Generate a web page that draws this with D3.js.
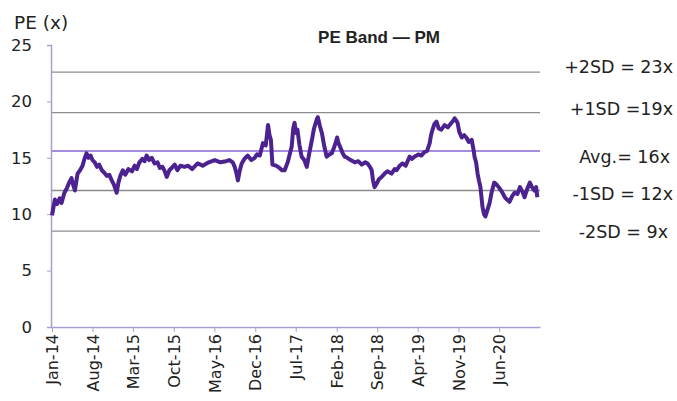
<!DOCTYPE html>
<html>
<head>
<title>PE Band - PM</title>
<script src="https://cdn.jsdelivr.net/npm/d3@7"></script>
<style>
  body { margin: 0; background: #fff; }
  svg text { font-family: "DejaVu Sans", Verdana, sans-serif; fill: #222; }
</style>
</head>
<body>
<svg id="chart" width="677" height="401"></svg>
<script>
// PE series (roughly every two weeks)
var dates = [
  '2014-01-01','2014-01-16','2014-01-28','2014-02-10','2014-02-20','2014-03-07','2014-03-20','2014-04-01','2014-04-13','2014-04-22',
  '2014-05-01','2014-05-15','2014-05-28','2014-06-10','2014-06-20','2014-07-01','2014-07-12','2014-07-22','2014-08-01','2014-08-13',
  '2014-08-25','2014-09-05','2014-09-19','2014-10-01','2014-10-15','2014-10-28','2014-11-10','2014-11-22','2014-12-06','2014-12-15',
  '2014-12-25','2015-01-07','2015-01-20','2015-02-05','2015-02-24','2015-03-10','2015-03-22','2015-04-04','2015-04-20','2015-05-01',
  '2015-05-12','2015-05-25','2015-06-08','2015-06-22','2015-07-08','2015-07-20','2015-08-03','2015-08-15','2015-08-25','2015-09-08',
  '2015-09-20','2015-10-06','2015-10-20','2015-11-05','2015-11-27','2015-12-15','2016-01-05','2016-02-03','2016-03-01','2016-04-01',
  '2016-05-03','2016-06-01','2016-07-01','2016-07-19','2016-08-05','2016-08-15','2016-08-25','2016-09-01','2016-09-10','2016-09-21',
  '2016-10-05','2016-10-22','2016-11-10','2016-11-28','2016-12-10','2016-12-25','2017-01-10','2017-01-25','2017-02-06','2017-02-14',
  '2017-02-21','2017-03-01','2017-03-20','2017-04-07','2017-04-20','2017-05-04','2017-05-20','2017-06-01','2017-06-10','2017-06-18',
  '2017-06-25','2017-07-03','2017-07-10','2017-07-20','2017-08-01','2017-08-15','2017-08-28','2017-09-10','2017-09-24','2017-10-05',
  '2017-10-12','2017-10-19','2017-10-25','2017-11-05','2017-11-15','2017-11-28','2017-12-10','2017-12-25','2018-01-06','2018-01-20',
  '2018-02-03','2018-02-10','2018-02-18','2018-03-04','2018-03-15','2018-03-28','2018-04-15','2018-05-06','2018-05-25','2018-06-12',
  '2018-07-01','2018-07-12','2018-07-25','2018-08-03','2018-08-10','2018-08-18','2018-09-01','2018-09-10','2018-09-24','2018-10-10',
  '2018-10-24','2018-11-15','2018-12-01','2018-12-12','2018-12-28','2019-01-12','2019-01-28','2019-02-18','2019-03-01','2019-03-15',
  '2019-04-05','2019-04-20','2019-05-06','2019-05-20','2019-06-03','2019-06-10','2019-06-18','2019-06-28','2019-07-09','2019-07-20',
  '2019-08-03','2019-08-20','2019-09-06','2019-09-20','2019-10-05','2019-10-12','2019-10-20','2019-10-27','2019-11-05','2019-11-18',
  '2019-12-01','2019-12-12','2019-12-25','2020-01-09','2020-01-18','2020-01-24','2020-02-01','2020-02-09','2020-02-16','2020-02-24',
  '2020-03-01','2020-03-06','2020-03-14','2020-03-21','2020-03-30','2020-04-12','2020-04-22','2020-05-06','2020-05-20','2020-06-03',
  '2020-06-15','2020-07-01','2020-07-12','2020-07-25','2020-08-08','2020-08-21','2020-09-05','2020-09-18','2020-10-01','2020-10-12',
  '2020-10-25','2020-11-09','2020-11-20','2020-12-03','2020-12-12','2020-12-18'];
var pe = [
  9.9, 11.3, 10.9, 11.4, 11.0, 11.9, 12.3, 12.8, 13.2, 12.6,
  12.1, 13.6, 13.9, 14.3, 14.9, 15.4, 15.0, 15.2, 14.8, 14.6,
  14.2, 14.4, 13.9, 13.7, 13.4, 13.5, 13.0, 12.6, 11.9, 12.8,
  13.4, 13.9, 13.5, 14.0, 13.8, 14.3, 14.0, 14.6, 14.9, 14.7,
  15.2, 14.8, 15.0, 14.5, 14.6, 14.1, 14.2, 13.8, 13.3, 13.9,
  14.1, 14.4, 13.9, 14.3, 14.2, 14.3, 14.0, 14.5, 14.3, 14.6,
  14.8, 14.6, 14.7, 14.8, 14.6, 14.2, 13.6, 13.0, 13.8, 14.5,
  14.9, 15.2, 14.8, 15.0, 15.3, 15.2, 16.3, 16.1, 17.9, 17.0,
  16.6, 14.4, 14.3, 14.1, 13.9, 13.9, 14.6, 15.4, 16.0, 17.6,
  18.1, 17.2, 17.5, 16.2, 15.1, 14.8, 14.2, 15.4, 16.6, 17.6,
  18.0, 18.4, 18.6, 17.8, 17.2, 16.0, 15.1, 15.3, 15.4, 16.0,
  16.8, 16.3, 16.0, 15.4, 15.1, 15.0, 14.8, 14.6, 14.7, 14.4,
  14.6, 14.5, 14.2, 13.9, 13.0, 12.4, 12.8, 13.1, 13.3, 13.6,
  13.8, 13.6, 14.0, 13.9, 14.3, 14.5, 14.3, 15.1, 14.9, 15.1,
  15.3, 15.2, 15.5, 15.6, 16.3, 17.0, 17.5, 18.0, 18.2, 17.6,
  17.5, 17.9, 17.7, 18.0, 18.3, 18.5, 18.3, 18.1, 17.3, 16.8,
  17.0, 16.8, 16.4, 16.6, 15.8, 15.1, 14.6, 13.6, 13.0, 12.4,
  11.4, 10.6, 10.0, 9.8, 10.3, 11.0, 11.9, 12.8, 12.6, 12.3,
  12.0, 11.5, 11.3, 11.1, 11.6, 11.9, 11.8, 12.4, 12.0, 11.5,
  12.2, 12.8, 12.4, 12.1, 12.4, 11.5];

// band levels and their labels
var bandValues = [22.6, 19.0, 15.6, 12.1, 8.5];
var bandLabels = ['+2SD = 23x', '+1SD =19x', 'Avg.= 16x', '-1SD = 12x', '-2SD = 9x'];

var yTicks = [0, 5, 10, 15, 20, 25];
var xTickDates = ['2014-01-01','2014-08-01','2015-03-01','2015-10-01','2016-05-01','2016-12-01',
  '2017-07-01','2018-02-01','2018-09-01','2019-04-01','2019-11-01','2020-06-01'];

var drawChart = function() {
  var parse = d3.timeParse('%Y-%m-%d');
  var data = dates.map(function(d, i){ return {date: parse(d), v: pe[i]}; });

  var svg = d3.select('#chart');
  var mLeft = 51, mRight = 540, mTop = 45, mBottom = 327;

  var x = d3.scaleTime().domain([parse('2014-01-01'), parse('2021-01-01')]).range([mLeft + 1, mRight]);
  var y = d3.scaleLinear().domain([0, 25]).range([mBottom, mTop]);

  // band lines
  svg.selectAll('line.band').data(bandValues).enter().append('line')
    .attr('class', 'band')
    .attr('x1', mLeft).attr('x2', mRight)
    .attr('y1', function(d){ return y(d); }).attr('y2', function(d){ return y(d); })
    .attr('stroke', function(d, i){ return i === 2 ? '#a48ce0' : '#8c8c8c'; })
    .attr('stroke-width', function(d, i){ return i === 2 ? 2 : 1.3; });

  // band labels
  svg.selectAll('text.blab').data(bandLabels).enter().append('text')
    .attr('class', 'blab')
    .attr('x', function(d, i){ return [673, 673, 670, 673, 668][i]; })
    .attr('y', function(d, i){ return [73, 115, 163, 200, 238][i]; })
    .attr('text-anchor', 'end')
    .attr('font-size', 17.5)
    .text(function(d){ return d; });

  // axes
  var yAxis = d3.axisLeft(y).tickValues(yTicks).tickSize(4).tickPadding(15);
  var gy = svg.append('g').attr('transform', 'translate(' + mLeft + ',0)').call(yAxis);
  gy.select('.domain').attr('stroke', '#a89ed0').attr('stroke-width', 1.5);
  gy.selectAll('.tick line').attr('stroke', '#a89ed0');
  gy.selectAll('.tick text').attr('font-size', 16.5).attr('fill', '#222')
    .style('font-family', '"DejaVu Sans", Verdana, sans-serif');

  var xAxis = d3.axisBottom(x).tickValues(xTickDates.map(parse))
    .tickFormat(d3.timeFormat('%b-%y')).tickSize(5).tickSizeOuter(0);
  var gx = svg.append('g').attr('transform', 'translate(0,' + mBottom + ')').call(xAxis);
  gx.select('.domain').attr('stroke', '#a89ed0').attr('stroke-width', 1.5);
  gx.selectAll('.tick line').attr('stroke', '#a89ed0');
  gx.selectAll('.tick text')
    .attr('font-size', 16).attr('fill', '#222')
    .style('font-family', '"DejaVu Sans", Verdana, sans-serif')
    .attr('text-anchor', 'end')
    .attr('transform', 'rotate(-90)')
    .attr('x', -7).attr('y', 0).attr('dy', '0.35em');

  // PE line
  var line = d3.line().x(function(d){ return x(d.date); }).y(function(d){ return y(d.v); });
  svg.append('path').datum(data)
    .attr('d', line)
    .attr('fill', 'none')
    .attr('stroke', '#4b2290')
    .attr('stroke-width', 4)
    .attr('stroke-linejoin', 'round');

  // titles
  svg.append('text').attr('x', 14).attr('y', 29).attr('font-size', 18.5).text('PE (x)');
  svg.append('text').attr('x', 379).attr('y', 43).attr('text-anchor', 'middle')
    .attr('font-size', 17).attr('font-weight', 'bold')
    .style('font-family', '"Liberation Sans", Arial, sans-serif')
    .text('PE Band \u2014 PM');
};

drawChart();
</script>
</body>
</html>
